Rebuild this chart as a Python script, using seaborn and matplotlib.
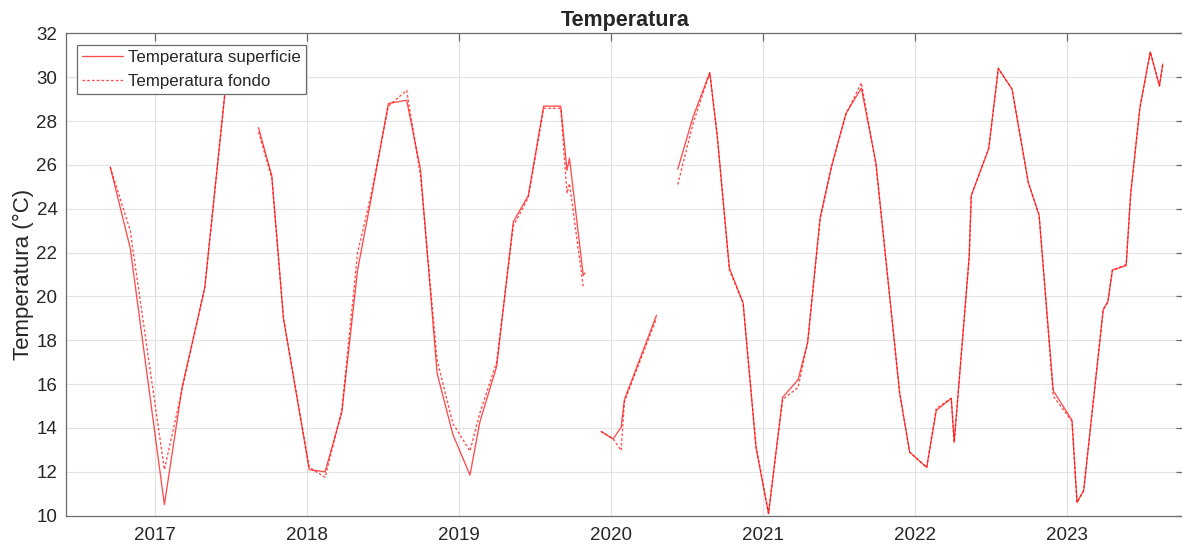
import pandas as pd
import numpy as np
import matplotlib
matplotlib.use("Agg")
import matplotlib.pyplot as plt
import matplotlib.dates as mdates
from matplotlib.lines import Line2D
import seaborn as sns

# sampling dates (None = gap in the record)
dates = [
    "2016-09-16", "2016-11-03", "2017-01-24", "2017-03-08", "2017-05-01", "2017-06-24", None,
    "2017-09-07", "2017-10-09", "2017-11-06", "2018-01-07", "2018-02-14", "2018-03-26",
    "2018-05-03", "2018-06-03", "2018-07-16", "2018-08-29", "2018-10-01", "2018-11-10",
    "2018-12-18", "2019-01-28", "2019-02-21", "2019-04-02", "2019-05-12", "2019-06-17",
    "2019-07-24", "2019-09-03", "2019-09-18", "2019-09-24", "2019-10-27", "2019-10-31", None,
    "2019-12-09", "2020-01-07", "2020-01-26", "2020-02-03", "2020-04-20", None,
    "2020-06-10", "2020-07-17", "2020-08-26", "2020-09-13", "2020-10-12", "2020-11-14",
    "2020-12-15", "2021-01-14", "2021-02-17", "2021-03-26", "2021-04-18", "2021-05-18",
    "2021-06-14", "2021-07-19", "2021-08-25", "2021-09-29", "2021-11-25", "2021-12-19",
    "2022-01-29", "2022-02-21", "2022-03-29", "2022-04-05", "2022-05-11", "2022-05-16",
    "2022-06-27", "2022-07-20", "2022-08-22", "2022-09-30", "2022-10-26", "2022-11-29",
    "2023-01-13", "2023-01-25", "2023-02-10", "2023-03-29", "2023-04-09", "2023-04-20",
    "2023-05-23", "2023-06-03", "2023-06-25", "2023-07-20", "2023-08-11", "2023-08-19",
]

t_superficie = [
    25.9, 22.2, 10.5, 15.9, 20.4, 30.3, np.nan,
    27.7, 25.5, 19.0, 12.1, 12.0, 14.7,
    21.2, 24.3, 28.8, 28.95, 25.8, 16.5,
    13.7, 11.85, 14.3, 16.8, 23.4, 24.6,
    28.68, 28.68, 25.75, 26.3, 20.96, 21.07, np.nan,
    13.84, 13.5, 14.04, 15.3, 19.14, np.nan,
    25.8, 28.2, 30.2, 27.3, 21.3, 19.7,
    13.1, 10.1, 15.4, 16.2, 17.9, 23.6,
    25.9, 28.35, 29.5, 26.1, 15.6, 12.9,
    12.2, 14.8, 15.35, 13.35, 21.8, 24.6,
    26.75, 30.4, 29.45, 25.2, 23.7, 15.7,
    14.35, 10.6, 11.15, 19.4, 19.75, 21.2,
    21.4, 24.7, 28.6, 31.15, 29.6, 30.6,
]

t_fondo = [
    25.9, 23.0, 12.1, 15.8, 20.4, 30.3, np.nan,
    27.5, 25.4, 19.0, 12.2, 11.75, 14.8,
    22.0, 24.5, 28.68, 29.4, 25.5, 17.1,
    14.2, 12.95, 14.7, 17.0, 23.2, 24.5,
    28.58, 28.58, 24.7, 25.15, 20.45, np.nan, np.nan,
    13.84, 13.5, 12.97, 15.2, 19.0, np.nan,
    25.1, 27.9, 30.2, 27.3, 21.2, 19.7,
    13.2, 10.1, 15.3, 15.85, 17.9, 23.5,
    25.9, 28.3, 29.75, 26.0, 15.6, 12.9,
    12.2, 14.9, 15.35, 13.35, 21.8, 24.6,
    26.75, 30.4, 29.45, 25.2, 23.7, 15.45,
    14.3, 10.6, 11.15, 19.4, 19.75, 21.2,
    21.45, 24.7, 28.6, 31.15, 29.6, 30.6,
]

df = pd.DataFrame({"Data": pd.to_datetime(dates),
                   "superficie": t_superficie,
                   "fondo": t_fondo})
# gaps split the record into separate segments
df["seg"] = df["Data"].isna().cumsum()

sns.set_style("white")
plt.rcParams["font.family"] = ["Liberation Sans", "DejaVu Sans"]

fig = plt.figure(figsize=(11.82, 5.49), dpi=100)
# right edge runs just past the image border, as in the original export
ax = fig.add_axes([0.0556, 0.0607, 0.9461, 0.8786])

red = "#ff0000"
dots = (0, (2, 1.6))
sup = df.dropna(subset=["Data", "superficie"])
fon = df.dropna(subset=["Data", "fondo"])
sns.lineplot(data=sup, x="Data", y="superficie", units="seg", estimator=None,
             color=red, alpha=0.7, linewidth=0.95, ax=ax)
sns.lineplot(data=fon, x="Data", y="fondo", units="seg", estimator=None,
             color=red, alpha=0.7, linewidth=0.95, linestyle=dots, ax=ax)

ax.set_xlim(pd.Timestamp("2016-06-01"), pd.Timestamp("2023-10-09"))
ax.set_ylim(10, 32)
ax.set_yticks(np.arange(10, 33, 2))
ax.xaxis.set_major_locator(mdates.YearLocator())
ax.xaxis.set_major_formatter(mdates.DateFormatter("%Y"))

ax.grid(True, color="#e3e3e3", linewidth=0.8)
ax.set_axisbelow(True)
for s in ax.spines.values():
    s.set_color("#6b6b6b")
    s.set_linewidth(0.9)
ax.tick_params(direction="in", top=True, right=True, length=6, width=0.9,
               color="#6b6b6b", labelcolor="#262626", labelsize=13.5, pad=8)
ax.tick_params(axis="y", pad=6)

ax.set_xlabel("")
ax.set_ylabel("Temperatura (°C)", fontsize=16, color="#262626", labelpad=1.5)
ax.set_title("Temperatura", fontsize=15.5, fontweight="bold", pad=5)

handles = [Line2D([], [], color=red, alpha=0.7, linewidth=0.95),
           Line2D([], [], color=red, alpha=0.7, linewidth=0.95, linestyle=dots)]
leg = ax.legend(handles, ["Temperatura superficie", "Temperatura fondo"],
                loc="upper left", bbox_to_anchor=(0.0101, 0.9757), fontsize=12.2,
                frameon=True, fancybox=False, framealpha=1, edgecolor="#6b6b6b",
                handlelength=2.4, handletextpad=0.3, borderpad=0.3, labelspacing=0.5,
                borderaxespad=0.0)
leg.get_frame().set_linewidth(0.9)

fig.savefig("out.png", dpi=100)
